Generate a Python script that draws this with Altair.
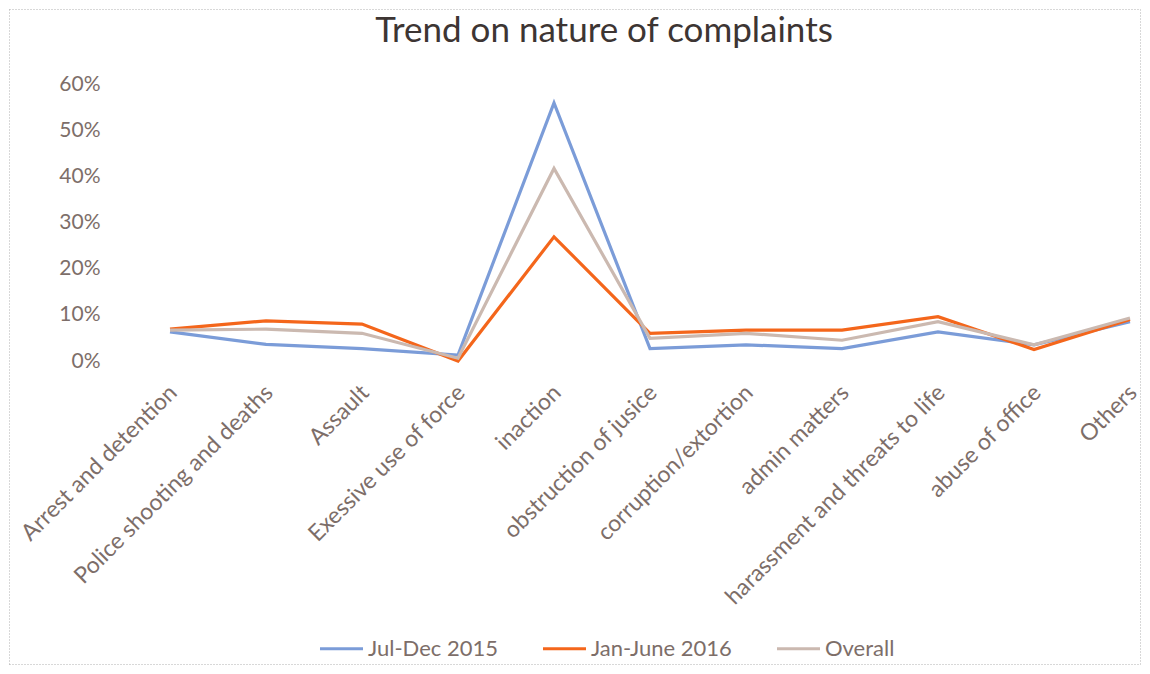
import altair as alt
import pandas as pd

categories = [
    "Arrest and detention",
    "Police shooting and deaths",
    "Assault",
    "Exessive use of force",
    "inaction",
    "obstruction of jusice",
    "corruption/extortion",
    "admin matters",
    "harassment and threats to life",
    "abuse of office",
    "Others",
]
series_names = ["Jul-Dec 2015", "Jan-June 2016", "Overall"]
jul_dec_2015 = [0.063, 0.036, 0.027, 0.013, 0.559, 0.027, 0.035, 0.027, 0.063, 0.035, 0.085]
jan_june_2016 = [0.069, 0.087, 0.080, 0.000, 0.269, 0.060, 0.067, 0.067, 0.096, 0.025, 0.090]
overall = [0.067, 0.069, 0.060, 0.006, 0.417, 0.049, 0.060, 0.045, 0.085, 0.035, 0.093]
colors = ["#7b9cd8", "#f4661b", "#cbb9b0"]
y_ticks = [0, 0.1, 0.2, 0.3, 0.4, 0.5, 0.6]
title_text = "Trend on nature of complaints"

rows = []
for name, vals in zip(series_names, [jul_dec_2015, jan_june_2016, overall]):
    for i, (c, v) in enumerate(zip(categories, vals)):
        rows.append({"category": c, "series": name, "value": v, "idx": i})
df = pd.DataFrame(rows)

FONT = "Lato"
LABEL_COLOR = "#7d6e69"

lines = alt.Chart(df).mark_line(strokeWidth=3.2).encode(
    x=alt.X(
        "category:N",
        sort=categories,
        scale=alt.Scale(type="point", padding=0),
        axis=alt.Axis(
            title=None,
            labelAngle=-45,
            labelAlign="right",
            labelBaseline="top",
            labelPadding=20,
            labelOffset=-5,
            labelFontSize=23,
            labelFont=FONT,
            labelColor=LABEL_COLOR,
            labelLimit=500,
            domain=False,
            ticks=False,
            grid=False,
            labelOverlap=False,
        ),
    ),
    y=alt.Y(
        "value:Q",
        scale=alt.Scale(domain=[0, 0.6], nice=False),
        axis=alt.Axis(
            title=None,
            values=y_ticks,
            format=".0%",
            labelFontSize=21,
            labelFont=FONT,
            labelColor=LABEL_COLOR,
            labelPadding=70,
            domain=False,
            ticks=False,
            grid=False,
        ),
    ),
    color=alt.Color(
        "series:N",
        sort=series_names,
        scale=alt.Scale(domain=series_names, range=colors),
        legend=alt.Legend(
            title=None,
            orient="none",
            direction="horizontal",
            legendX=148,
            legendY=541,
            symbolType="stroke",
            symbolSize=1850,
            symbolStrokeWidth=3.2,
            labelFontSize=22,
            labelFont=FONT,
            labelColor=LABEL_COLOR,
            labelOffset=3,
            columnPadding=38,
        ),
    ),
    detail="series:N",
)

one = alt.Data(values=[{"t": title_text}])
edge = dict(color="#b0b0b0", strokeWidth=1, strokeDash=[1, 2])
L, R, T, B = -160.5, 970.5, -74.5, 580.5
top_edge = alt.Chart(one).mark_rule(**edge).encode(
    x=alt.value(L), x2=alt.value(R), y=alt.value(T)
)
bottom_edge = alt.Chart(one).mark_rule(**edge).encode(
    x=alt.value(L), x2=alt.value(R), y=alt.value(B)
)
left_edge = alt.Chart(one).mark_rule(**edge).encode(
    y=alt.value(T), y2=alt.value(B), x=alt.value(L)
)
right_edge = alt.Chart(one).mark_rule(**edge).encode(
    y=alt.value(T), y2=alt.value(B), x=alt.value(R)
)

title = alt.Chart(one).mark_text(
    font=FONT, fontSize=35, color="#3d3533", align="center", baseline="alphabetic"
).encode(
    text="t:N", x=alt.value(434), y=alt.value(-42)
)

chart = alt.layer(top_edge, bottom_edge, left_edge, right_edge, lines, title).properties(
    width=960,
    height=277,
    padding={"left": 162, "top": 76, "right": 12, "bottom": 305},
    autosize=alt.AutoSizeParams(type="none"),
).configure_view(stroke=None)

chart.save("out.html", embed_options={"renderer": "svg", "actions": False})
